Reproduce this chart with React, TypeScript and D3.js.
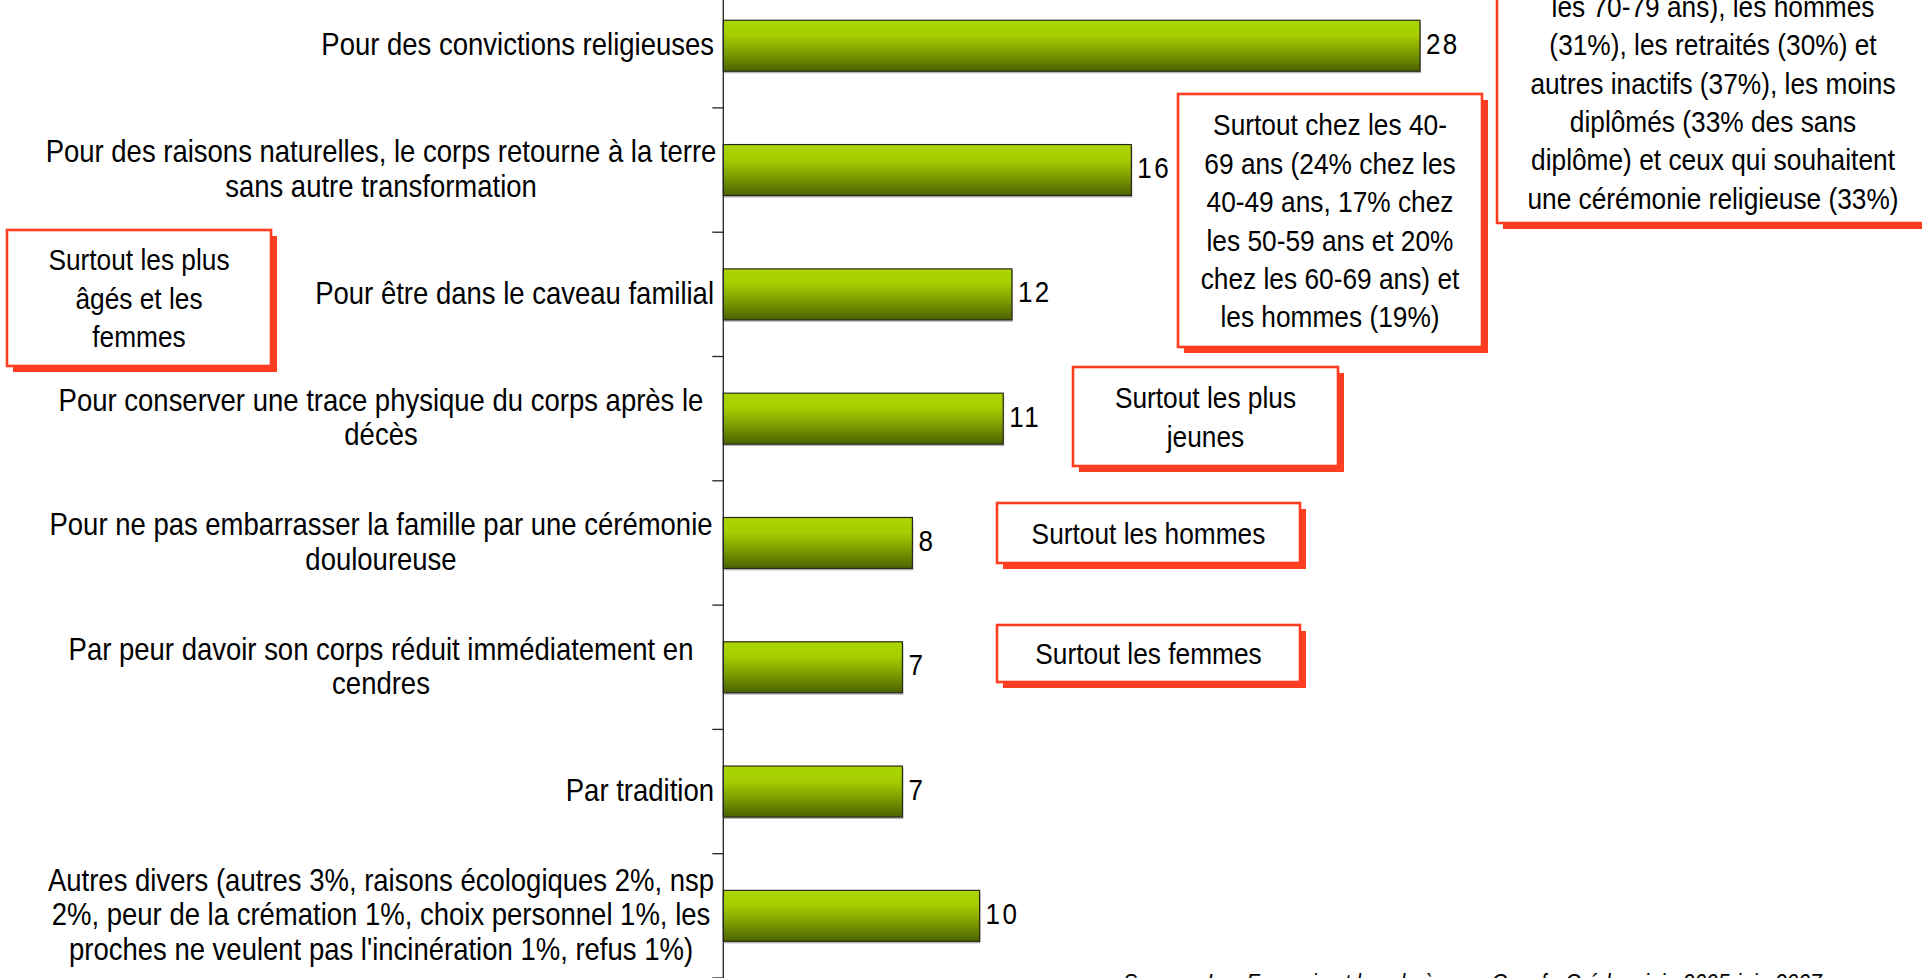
import React from "react";
import * as d3 from "d3";

// ---------- DATA ----------
const categories: string[][] = [
  ["Pour des convictions religieuses"],
  ["Pour des raisons naturelles, le corps retourne à la terre", "sans autre transformation"],
  ["Pour être dans le caveau familial"],
  ["Pour conserver une trace physique du corps après le", "décès"],
  ["Pour ne pas embarrasser la famille par une cérémonie", "douloureuse"],
  ["Par peur davoir son corps réduit immédiatement en", "cendres"],
  ["Par tradition"],
  [
    "Autres divers (autres 3%, raisons écologiques 2%, nsp",
    "2%, peur de la crémation 1%, choix personnel 1%, les",
    "proches ne veulent pas l'incinération 1%, refus 1%)",
  ],
];
const values: number[] = [28, 16.4, 11.6, 11.25, 7.6, 7.2, 7.2, 10.3];
const valueLabels: string[] = ["28", "16", "12", "11", "8", "7", "7", "10"];

const annotationTexts: string[][] = [
  [
    "les 70-79 ans), les hommes",
    "(31%), les retraités (30%) et",
    "autres inactifs (37%), les moins",
    "diplômés (33% des sans",
    "diplôme) et ceux qui souhaitent",
    "une cérémonie religieuse (33%)",
  ],
  [
    "Surtout chez les 40-",
    "69 ans (24% chez les",
    "40-49 ans, 17% chez",
    "les 50-59 ans et 20%",
    "chez les 60-69 ans) et",
    "les hommes (19%)",
  ],
  ["Surtout les plus", "âgés et les", "femmes"],
  ["Surtout les plus", "jeunes"],
  ["Surtout les hommes"],
  ["Surtout les femmes"],
];
const sourceText = "Source : Les Français et les obsèques, Csnaf - Crédoc, juin 2005-juin 2007";

// ---------- LAYOUT ----------
const W = 1922;
const H = 978;
const AXIS_X = 723.3;
const FONT = "'Liberation Sans', Arial, Helvetica, sans-serif";
const RED = "#ff3d21";

const boxLayout = [
  { x: 1497, y: -19, w: 432, h: 242 },
  { x: 1178, y: 94, w: 304, h: 253 },
  { x: 7, y: 230, w: 264, h: 136 },
  { x: 1073, y: 367, w: 265, h: 99 },
  { x: 997, y: 503, w: 303, h: 60 },
  { x: 997, y: 625, w: 303, h: 57 },
];

function SText(props: {
  x: number;
  y: number;
  sy: number;
  anchor: "start" | "middle" | "end";
  size: number;
  italic?: boolean;
  spacing?: number;
  children: React.ReactNode;
}) {
  return (
    <text
      transform={`translate(${props.x},${props.y}) scale(1,${props.sy})`}
      textAnchor={props.anchor}
      fontSize={props.size}
      fontFamily={FONT}
      fontStyle={props.italic ? "italic" : "normal"}
      letterSpacing={props.spacing ?? 0}
      fill="#000"
    >
      {props.children}
    </text>
  );
}

export default function App() {
  const y = d3
    .scaleBand<number>()
    .domain(categories.map((_, i) => i))
    .range([-16.4, 978])
    .paddingInner(0.59)
    .paddingOuter(0.295);

  const x = d3
    .scaleLinear()
    .domain([0, d3.max(values) as number])
    .range([AXIS_X, 1420]);

  const step = y.step();
  const tickYs = d3.range(categories.length + 1).map((k) => -16.4 + k * step);

  const LABEL_SIZE = 27.5;
  const LABEL_SY = 1.13;
  const LABEL_LH = 34.5;
  const LABEL_RIGHT = 714;
  const LABEL_CENTER = 381;

  const BOX_SIZE = 26.3;
  const BOX_SY = 1.15;
  const BOX_LH = 38.4;

  return (
    <svg
      width={W}
      height={H}
      style={{ position: "absolute", left: 0, top: 0, background: "#fff", overflow: "hidden" }}
    >
      <defs>
        <linearGradient id="barGrad" x1="0" y1="0" x2="0" y2="1">
          <stop offset="0" stopColor="#abd600" />
          <stop offset="0.3" stopColor="#a5cd00" />
          <stop offset="0.65" stopColor="#7a9a00" />
          <stop offset="1" stopColor="#4b6200" />
        </linearGradient>
      </defs>
      <rect x={0} y={0} width={W} height={H} fill="#fff" />

      {/* bars */}
      {values.map((v, i) => {
        const by = y(i) as number;
        const bh = y.bandwidth();
        const bw = x(v) - x(0);
        return (
          <g key={"bar" + i}>
            <rect x={x(0) + 1} y={by + 2} width={bw} height={bh} fill="#b5b5b5" />
            <rect
              x={x(0)}
              y={by}
              width={bw}
              height={bh}
              fill="url(#barGrad)"
              stroke="#2a2a1a"
              strokeWidth={1.2}
            />
            <SText x={x(v) + 6} y={by + bh / 2 + 8} sy={1.1} anchor="start" size={26} spacing={2.4}>
              {valueLabels[i]}
            </SText>
          </g>
        );
      })}

      {/* axis */}
      <line x1={AXIS_X} x2={AXIS_X} y1={-20} y2={H} stroke="#222" strokeWidth={1.3} />
      {tickYs.map((t, k) => (
        <line key={"t" + k} x1={AXIS_X - 11} x2={AXIS_X} y1={t} y2={t} stroke="#222" strokeWidth={1.3} />
      ))}

      {/* category labels */}
      {categories.map((lines, i) => {
        const cy = (y(i) as number) + y.bandwidth() / 2;
        const n = lines.length;
        return (
          <g key={"lab" + i}>
            {lines.map((ln, j) => {
              const lc = cy + (j - (n - 1) / 2) * LABEL_LH;
              return (
                <SText
                  key={j}
                  x={n === 1 ? LABEL_RIGHT : LABEL_CENTER}
                  y={lc + 9.5}
                  sy={LABEL_SY}
                  anchor={n === 1 ? "end" : "middle"}
                  size={LABEL_SIZE}
                >
                  {ln}
                </SText>
              );
            })}
          </g>
        );
      })}

      {/* annotation boxes */}
      {annotationTexts.map((lines, i) => {
        const b = boxLayout[i];
        const cx = b.x + b.w / 2;
        const cy = b.y + b.h / 2;
        const n = lines.length;
        return (
          <g key={"box" + i}>
            <rect x={b.x + 6} y={b.y + 6} width={b.w} height={b.h} fill={RED} />
            <rect
              x={b.x}
              y={b.y}
              width={b.w}
              height={b.h}
              fill="#fff"
              stroke={RED}
              strokeWidth={2.6}
            />
            {lines.map((ln, j) => {
              const lc = cy + (j - (n - 1) / 2) * BOX_LH;
              return (
                <SText key={j} x={cx} y={lc + 10.8} sy={BOX_SY} anchor="middle" size={BOX_SIZE}>
                  {ln}
                </SText>
              );
            })}
          </g>
        );
      })}

      {/* source */}
      <SText x={1123} y={991} sy={1.15} anchor="start" size={21} italic>
        {sourceText}
      </SText>
    </svg>
  );
}
